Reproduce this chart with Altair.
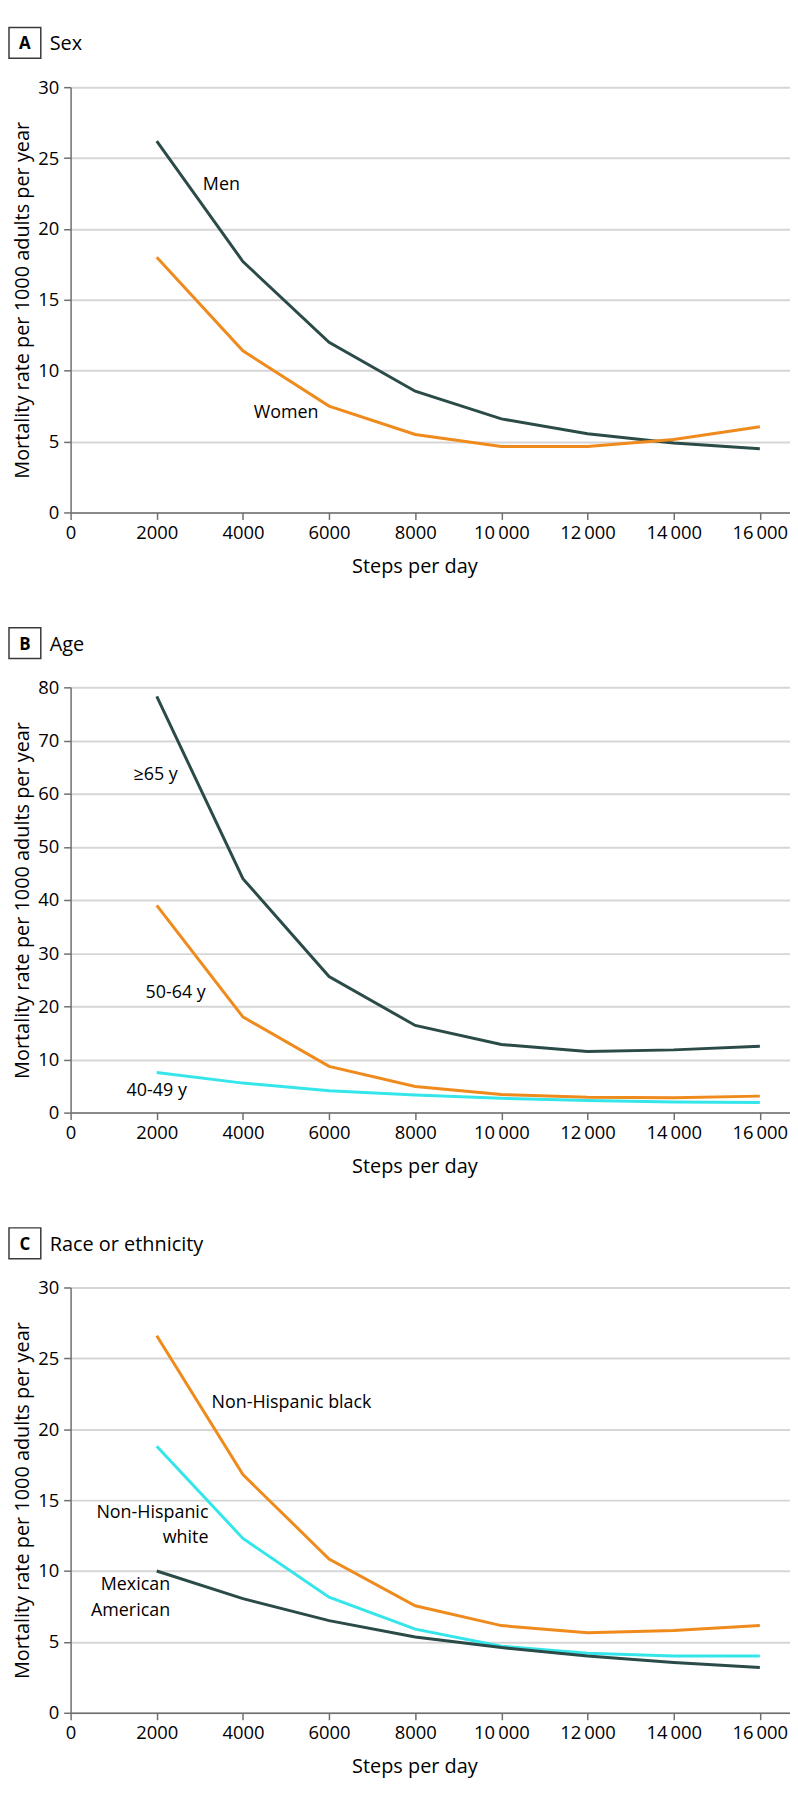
import altair as alt
import pandas as pd

# ---------------- data ----------------
steps = [2000, 4000, 6000, 8000, 10000, 12000, 14000, 16000]

# Panel A: sex
men = [26.2, 17.7, 12.0, 8.55, 6.6, 5.55, 4.9, 4.5]
women = [18.0, 11.4, 7.5, 5.5, 4.65, 4.65, 5.15, 6.05]

# Panel B: age
age_65 = [78.3, 44.0, 25.6, 16.4, 12.8, 11.5, 11.8, 12.5]
age_50_64 = [39.0, 18.0, 8.7, 4.9, 3.4, 2.9, 2.8, 3.1]
age_40_49 = [7.55, 5.55, 4.1, 3.3, 2.7, 2.3, 2.0, 1.9]

# Panel C: race or ethnicity
nh_black = [26.6, 16.8, 10.85, 7.55, 6.15, 5.65, 5.8, 6.15]
nh_white = [18.8, 12.3, 8.15, 5.9, 4.7, 4.2, 4.0, 4.0]
mexican_american = [10.0, 8.05, 6.5, 5.35, 4.6, 4.0, 3.55, 3.2]

x_ticks = [0, 2000, 4000, 6000, 8000, 10000, 12000, 14000, 16000]

# line-label annotations (text, anchor steps, anchor rate, alignment)
labels_a = [("Men", 3070, 23.1, "left"), ("Women", 4250, 7.0, "left")]
labels_b = [("≥65 y", 1460, 63.5, "left"), ("50-64 y", 1740, 22.5, "left"),
            ("40-49 y", 1300, 4.1, "left")]
labels_c = [("Non-Hispanic black", 3270, 21.85, "left"),
            ("Non-Hispanic", 3200, 14.1, "right"), ("white", 3200, 12.3, "right"),
            ("Mexican", 2310, 9.0, "right"), ("American", 2310, 7.2, "right")]

# ---------------- style ----------------
FONT = "Open Sans"
DARK = "#2a4b48"
ORANGE = "#ef8a1d"
CYAN = "#34e6ea"
AXIS = "#6f6f6f"
GRID = "#d6d6d6"
W, H = 724, 428
XMAX = 16700

LABEL_EXPR = ("datum.value >= 10000 ? replace(format(datum.value, ','), ',', '\u2009')"
              " : format(datum.value, 'd')")


def x_enc():
    return alt.X(
        "steps:Q",
        scale=alt.Scale(domain=[0, XMAX], nice=False, zero=True),
        axis=alt.Axis(values=x_ticks, title="Steps per day", grid=False,
                      labelExpr=LABEL_EXPR, labelPadding=4, titlePadding=15,
                      titleX=346, titleAlign="center", labelFlush=False,
                      labelOverlap=False),
    )


def y_enc(ymax, step):
    return alt.Y(
        "rate:Q",
        scale=alt.Scale(domain=[0, ymax], nice=False, zero=True),
        axis=alt.Axis(values=list(range(0, ymax + 1, step)),
                      title="Mortality rate per 1000 adults per year",
                      grid=True, labelPadding=5, titlePadding=5,
                      labelFlush=False, labelOverlap=False),
    )


def panel(letter, title, series, ymax, step, labels):
    layers = []
    for vals, color in series:
        df = pd.DataFrame({"steps": steps, "rate": vals})
        layers.append(
            alt.Chart(df).mark_line(strokeWidth=3, color=color).encode(
                x=x_enc(), y=y_enc(ymax, step))
        )
    for align in ("left", "right"):
        rows = [l for l in labels if l[3] == align]
        if not rows:
            continue
        ldf = pd.DataFrame({"t": [r[0] for r in rows],
                            "steps": [r[1] for r in rows],
                            "rate": [r[2] for r in rows]})
        layers.append(
            alt.Chart(ldf).mark_text(align=align, baseline="middle", font=FONT,
                                     fontSize=18, color="black").encode(
                x=x_enc(), y=y_enc(ymax, step), text="t:N")
        )
    deco = pd.DataFrame({"k": [0]})
    layers.append(
        alt.Chart(deco).mark_rect(fill="white", stroke="#3a3a3a", strokeWidth=1.5).encode(
            x=alt.value(-62), x2=alt.value(-30), y=alt.value(-60), y2=alt.value(-29))
    )
    layers.append(
        alt.Chart(deco).mark_text(font=FONT, fontSize=17, fontWeight="bold",
                                  align="center", baseline="alphabetic",
                                  color="black").encode(
            x=alt.value(-46), y=alt.value(-38), text=alt.value(letter))
    )
    layers.append(
        alt.Chart(deco).mark_text(font=FONT, fontSize=20, align="left",
                                  baseline="alphabetic", color="black").encode(
            x=alt.value(-21), y=alt.value(-37), text=alt.value(title))
    )
    return alt.layer(*layers).properties(width=W, height=H)


pa = panel("A", "Sex", [(men, DARK), (women, ORANGE)], 30, 5, labels_a)
pb = panel("B", "Age", [(age_65, DARK), (age_50_64, ORANGE), (age_40_49, CYAN)],
           80, 10, labels_b)
pc = panel("C", "Race or ethnicity",
           [(nh_black, ORANGE), (nh_white, CYAN), (mexican_american, DARK)],
           30, 5, labels_c)

chart = (
    alt.vconcat(pa, pb, pc, spacing=50)
    .properties(padding={"left": 0, "top": 13, "right": 0, "bottom": 0})
    .configure_view(stroke=None)
    .configure_axis(
        labelFont=FONT, labelFontSize=18.5, labelColor="black",
        titleFont=FONT, titleFontSize=20, titleFontWeight="normal", titleColor="black",
        domainColor=AXIS, domainWidth=1.5, tickColor=AXIS, tickWidth=1.5, tickSize=7,
        gridColor=GRID, gridWidth=2,
    )
)

chart.save("out.html", embed_options={"renderer": "svg", "actions": False})
